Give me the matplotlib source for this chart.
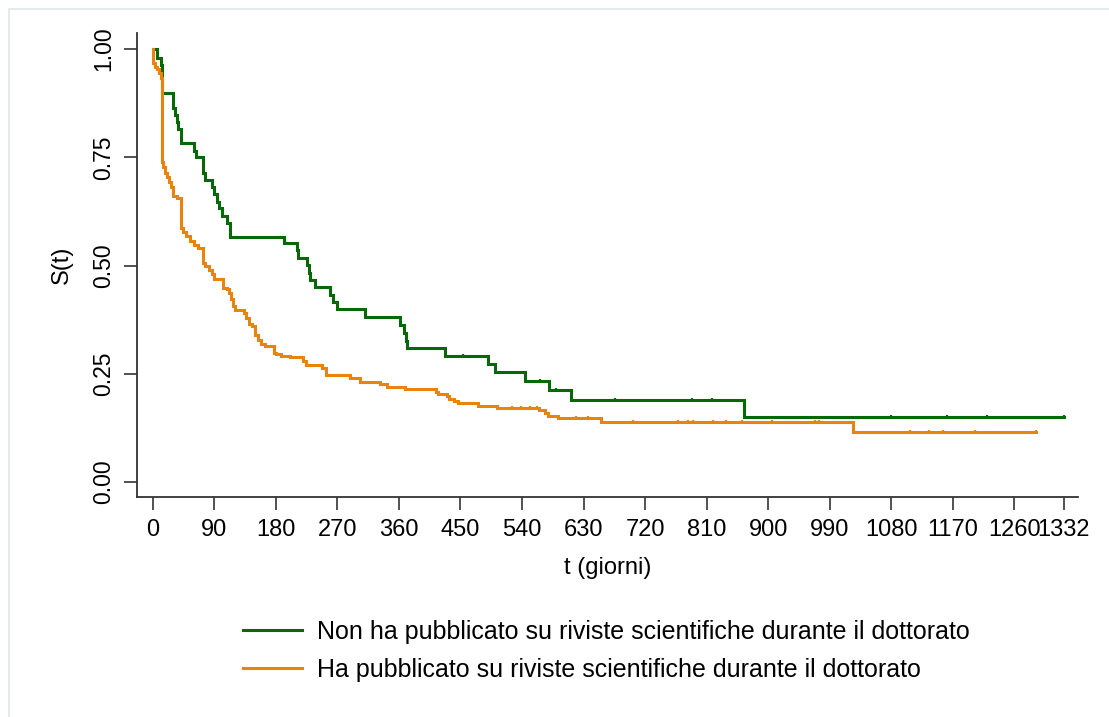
"""
plot.py

Kaplan-Meier curves: tempo al primo impiego per pubblicazione durante il dottorato.
"""

import numpy as np
import matplotlib
matplotlib.use("Agg")
import matplotlib.pyplot as plt
from matplotlib.patches import Rectangle

plt.rcParams["font.family"] = ["Liberation Sans", "DejaVu Sans"]

# --- data ---
green_label = "Non ha pubblicato su riviste scientifiche durante il dottorato"
orange_label = "Ha pubblicato su riviste scientifiche durante il dottorato"

green_t = [0, 7, 12, 14, 30, 33, 35, 37, 41, 60, 64, 74, 76, 87, 89, 94, 97,
           102, 108, 113, 192, 211, 213, 226, 228, 230, 237, 259, 263, 269,
           310, 362, 367, 371, 372, 428, 490, 501, 544, 580, 611, 864]
green_s = [1.0, 0.98, 0.963, 0.898, 0.864, 0.848, 0.832, 0.815, 0.782, 0.765,
           0.75, 0.713, 0.697, 0.682, 0.665, 0.647, 0.633, 0.615, 0.599, 0.567,
           0.551, 0.536, 0.517, 0.501, 0.483, 0.467, 0.45, 0.432, 0.416, 0.40,
           0.382, 0.363, 0.345, 0.326, 0.309, 0.291, 0.2725, 0.253, 0.233,
           0.2125, 0.189, 0.151]
green_end = 1332
green_cens = [453, 567, 590, 676, 789, 818, 1079, 1161, 1220, 1332]

orange_t = [0, 1, 4, 7, 9, 12, 14, 15, 18, 21, 24, 27, 30, 35, 41, 44, 49, 55,
            60, 66, 73, 76, 83, 86, 90, 103, 108, 112, 114, 117, 121, 133, 137,
            141, 145, 150, 154, 159, 164, 177, 181, 187, 201, 220, 224, 247,
            254, 288, 303, 332, 342, 369, 414, 417, 430, 433, 440, 447, 475,
            503, 565, 574, 578, 593, 655, 1024]
orange_s = [1.0, 0.967, 0.959, 0.953, 0.945, 0.932, 0.74, 0.728, 0.714, 0.705,
            0.694, 0.682, 0.661, 0.655, 0.586, 0.577, 0.569, 0.557, 0.547, 0.54,
            0.505, 0.499, 0.49, 0.48, 0.47, 0.449, 0.445, 0.436, 0.422, 0.406,
            0.397, 0.39, 0.378, 0.366, 0.36, 0.34, 0.328, 0.319, 0.315, 0.299,
            0.295, 0.292, 0.288, 0.279, 0.27, 0.2625, 0.247, 0.2395, 0.232,
            0.226, 0.22, 0.214, 0.209, 0.203, 0.198, 0.192, 0.188, 0.182, 0.176,
            0.171, 0.166, 0.159, 0.153, 0.147, 0.139, 0.116]
orange_end = 1292
orange_cens = [525, 538, 551, 562, 619, 637, 703, 768, 783, 790, 820, 839, 862,
               906, 969, 974, 1108, 1135, 1156, 1203, 1292]

x_ticks = [0, 90, 180, 270, 360, 450, 540, 630, 720, 810, 900, 990, 1080,
           1170, 1260, 1332]
y_ticks = [0.0, 0.25, 0.5, 0.75, 1.0]

GREEN = "#076807"
ORANGE = "#E8830C"
AXIS = "#333333"


def km_curve(ax, t, s, t_end, cens, color, label):
    tt = np.append(t, t_end)
    ss = np.append(s, s[-1])
    ax.step(tt, ss, where="post", color=color, lw=2.2, label=label,
            solid_joinstyle="miter")
    # censored observations as small ticks on the curve
    idx = np.searchsorted(t, cens, side="right") - 1
    ax.plot(cens, np.asarray(s)[idx], linestyle="none", marker="|",
            markersize=3.5, markeredgewidth=1.6, color=color)


fig = plt.figure(figsize=(11.09, 7.17), dpi=100)

# light outer frame of the graph region
fig.patches.append(Rectangle((8.5 / 1109, -0.2), 1.2, 1.2 - 8.5 / 717,
                             transform=fig.transFigure, fill=False,
                             edgecolor="#e3eaee", lw=1.5))

ax = fig.add_axes([136.7 / 1109, 1 - 497 / 717,
                   (1078 - 136.7) / 1109, (497 - 33) / 717])

km_curve(ax, green_t, green_s, green_end, green_cens, GREEN, green_label)
km_curve(ax, orange_t, orange_s, orange_end, orange_cens, ORANGE, orange_label)

ax.set_xlim(-23.4, 1353)
ax.set_ylim(-0.0346, 1.037)

ax.set_xticks(x_ticks)
ax.set_xticklabels([str(v) for v in x_ticks])
ax.set_yticks(y_ticks)
ax.set_yticklabels([f"{v:.2f}" for v in y_ticks], rotation=90, va="center")

for side in ("top", "right"):
    ax.spines[side].set_visible(False)
for side in ("left", "bottom"):
    ax.spines[side].set_color(AXIS)
    ax.spines[side].set_linewidth(1.3)

ax.tick_params(axis="both", direction="out", length=9.5, width=1.2,
               color=AXIS, labelcolor="black")
ax.tick_params(axis="x", pad=6, labelsize=17)
ax.tick_params(axis="y", pad=6, labelsize=16.5)

ax.set_xlabel("t (giorni)", fontsize=17, labelpad=12)
ax.set_ylabel("S(t)", fontsize=17, labelpad=14)

fig.legend(loc="upper left", bbox_to_anchor=(243 / 1109, 1 - 620 / 717),
           frameon=False, fontsize=18, handlelength=2.36, handletextpad=0.6,
           labelspacing=0.56, borderpad=0, borderaxespad=0)

fig.savefig("out.png", dpi=100, facecolor="white")
